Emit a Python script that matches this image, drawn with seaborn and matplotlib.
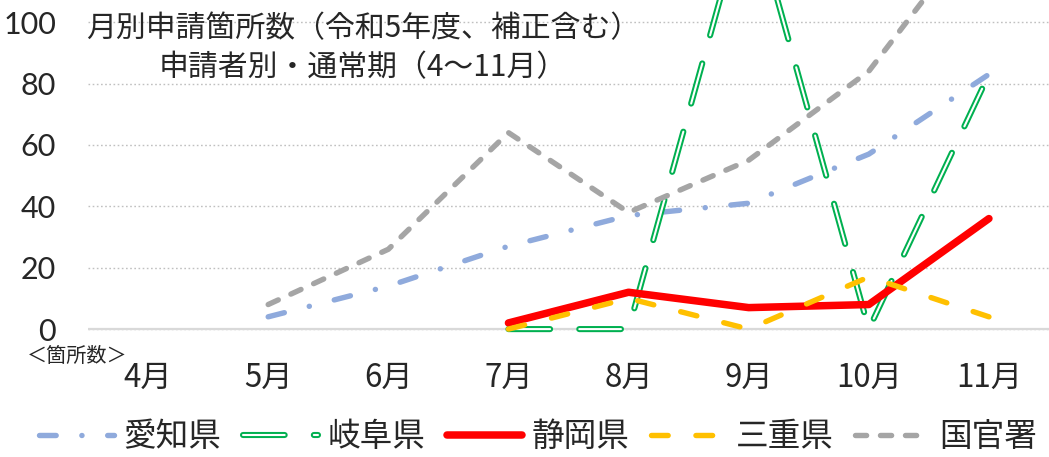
import numpy as np
import pandas as pd
import matplotlib
matplotlib.use("Agg")
import matplotlib.pyplot as plt
import matplotlib.patheffects as pe
import seaborn as sns

nan = np.nan

# data
months = ["4月", "5月", "6月", "7月", "8月", "9月", "10月", "11月"]
aichi = [nan, 4, 14, 27, 37, 41, 57, 83]
gifu = [nan, nan, nan, 0, 0, 141, 0, 83]
shizuoka = [nan, nan, nan, 2, 12, 7, 8, 36]
mie = [nan, nan, nan, 0, 10, 0, 17, 4]
kokkan = [nan, 8, 26, 64, 38, 55, 84, 135]
series_names = ["愛知県", "岐阜県", "静岡県", "三重県", "国官署"]

title_lines = "月別申請箇所数（令和5年度、補正含む）\n申請者別・通常期（4～11月）"
unit_label = "＜箇所数＞"

sns.set_style("white")
plt.rcParams["font.family"] = ["Noto Sans CJK JP", "DejaVu Sans"]
plt.rcParams["lines.scale_dashes"] = False

df = pd.DataFrame({
    "pos": np.arange(len(months)),
    "愛知県": aichi,
    "岐阜県": gifu,
    "静岡県": shizuoka,
    "三重県": mie,
    "国官署": kokkan,
})

W, H = 1049, 457
fig = plt.figure(figsize=(W / 100, H / 100), dpi=100)
ax_bottom = (H - 333.7) / H
ax = fig.add_axes([88 / W, ax_bottom, 1 - 88 / W, 1 - ax_bottom])

styles = {
    "愛知県": dict(color="#8faadc", lw=3.9, linestyle=(0, (12, 18.5, 0.1, 18.5)),
                dash_capstyle="round", solid_capstyle="round"),
    "岐阜県": dict(color="white", lw=1.5, linestyle=(0, (30, 21)),
                dash_capstyle="round", solid_capstyle="round",
                path_effects=[pe.Stroke(linewidth=4.4, foreground="#00b050"), pe.Normal()]),
    "静岡県": dict(color="#ff0000", lw=5.4, linestyle="-", solid_capstyle="round",
                solid_joinstyle="round"),
    "三重県": dict(color="#ffc000", lw=3.9, linestyle=(0, (12, 20)),
                dash_capstyle="round"),
    "国官署": dict(color="#a5a5a5", lw=3.9, linestyle=(0, (8, 10)),
                dash_capstyle="round"),
}

handles = []
for name in series_names:
    sub = df[["pos", name]].dropna()
    sns.lineplot(data=sub, x="pos", y=name, ax=ax, errorbar=None,
                 legend=False, **styles[name])
    line = ax.lines[-1]
    line.set_label(name)
    handles.append(line)

ax.set_xlim(-0.5, 7.5)
ax.set_ylim(-1.5, 107.2)
ax.set_xticks(range(len(months)), months)
ax.set_yticks([0, 20, 40, 60, 80, 100])
ax.set_xlabel("")
ax.set_ylabel("")
ax.tick_params(axis="y", length=0, pad=23, labelsize=22)
ax.tick_params(axis="x", length=0, pad=20, labelsize=22.5)
for lab in ax.get_yticklabels():
    lab.set_fontfamily(["Lato", "DejaVu Sans"])
for s in ax.spines.values():
    s.set_visible(False)
ax.yaxis.grid(True, linestyle=(0, (1.2, 1.8)), color="#c0c0c0", lw=1.0)
ax.xaxis.grid(False)
ax.set_axisbelow(True)
ax.axhline(0, color="#d9d9d9", lw=1.6, zorder=1.5)

fig.text(363 / W, 1 - 48 / H, title_lines, ha="center", va="center",
         fontsize=21.5, linespacing=1.35)
fig.text(77 / W, 1 - 356 / H, unit_label, ha="center", va="center", fontsize=14.5)

fig.legend(handles=handles, labels=series_names, loc="center",
           bbox_to_anchor=(0.513, 20 / H), ncol=5, frameon=False,
           fontsize=23.5, handlelength=2.3, handletextpad=0.3,
           columnspacing=0.65, borderpad=0)

fig.savefig("out.png", dpi=100)
